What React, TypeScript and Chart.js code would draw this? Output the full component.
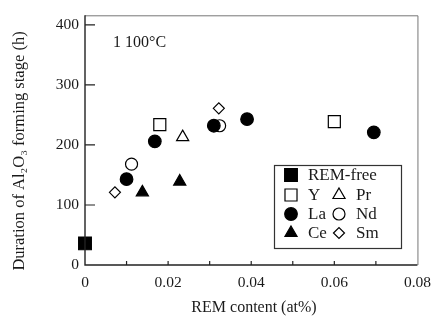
import React, { useEffect, useRef } from "react";
import { Chart, registerables } from "chart.js";
import * as helpers from "chart.js/helpers";

Chart.register(...registerables);

const remFree = [{ x: 0, y: 36 }];
const yData = [{ x: 0.018, y: 234 }, { x: 0.06, y: 239 }];
const laData = [
  { x: 0.01, y: 143 },
  { x: 0.0168, y: 206 },
  { x: 0.031, y: 232 },
  { x: 0.039, y: 243 },
  { x: 0.0695, y: 221 },
];
const ceData = [{ x: 0.0138, y: 121 }, { x: 0.0228, y: 139 }];
const prData = [{ x: 0.0235, y: 213 }];
const ndData = [{ x: 0.0112, y: 168 }, { x: 0.0324, y: 232 }];
const smData = [{ x: 0.0072, y: 121 }, { x: 0.0322, y: 261 }];

const yTicks = [0, 100, 200, 300, 400];
const xTicks = [0, 0.01, 0.02, 0.03, 0.04, 0.05, 0.06, 0.07, 0.08];
const xLabels = ["0", "", "0.02", "", "0.04", "", "0.06", "", "0.08"];

const FONT = "'Liberation Serif', 'DejaVu Serif', serif";

const styles: Record<string, any> = {
  "REM-free": { pointStyle: "rect", radius: 9, fill: true },
  Y: { pointStyle: "rect", radius: 8.5, fill: false },
  La: { pointStyle: "circle", radius: 6.3, fill: true },
  Ce: { pointStyle: "triangle", radius: 7, fill: true },
  Pr: { pointStyle: "triangle", radius: 7, fill: false },
  Nd: { pointStyle: "circle", radius: 6, fill: false },
  Sm: { pointStyle: "rectRot", radius: 5.5, fill: false },
};

function ds(label: string, data: any[]) {
  const s = styles[label];
  return {
    label,
    data,
    pointStyle: s.pointStyle,
    pointRadius: s.radius,
    pointHoverRadius: s.radius,
    pointBackgroundColor: s.fill ? "#000" : "#fff",
    pointBorderColor: "#000",
    pointBorderWidth: 1.2,
    showLine: false,
    clip: false as any,
  };
}

const decorPlugin = {
  id: "decor",
  afterDraw(chart: any) {
    const { ctx, chartArea } = chart;
    const xs = chart.scales.x;
    const ys = chart.scales.y;
    const { left, right, top, bottom } = chartArea;
    ctx.save();
    // frame top/right
    ctx.strokeStyle = "#777";
    ctx.lineWidth = 1;
    ctx.beginPath();
    ctx.moveTo(left, top + 0.5);
    ctx.lineTo(right + 0.5, top + 0.5);
    ctx.lineTo(right + 0.5, bottom);
    ctx.stroke();
    // axes
    ctx.strokeStyle = "#222";
    ctx.lineWidth = 1.4;
    ctx.beginPath();
    ctx.moveTo(left, top);
    ctx.lineTo(left, bottom);
    ctx.lineTo(right, bottom);
    ctx.stroke();
    // inner ticks
    ctx.lineWidth = 1.2;
    ctx.beginPath();
    yTicks.forEach((v) => {
      if (v === 0) return;
      const p = ys.getPixelForValue(v);
      ctx.moveTo(left, p);
      ctx.lineTo(left + 10, p);
    });
    xTicks.forEach((v, i) => {
      if (v === 0 || i === xTicks.length - 1) return;
      const p = xs.getPixelForValue(v);
      ctx.moveTo(p, bottom);
      ctx.lineTo(p, bottom - 4);
    });
    ctx.stroke();

    // texts
    ctx.fillStyle = "#1a1a1a";
    ctx.font = `16px ${FONT}`;
    ctx.textBaseline = "middle";
    ctx.textAlign = "left";
    ctx.fillText("1 100°C", 113, 43);

    ctx.textAlign = "center";
    ctx.fillText("REM content (at%)", 254, 308);

    ctx.save();
    ctx.translate(20, 151);
    ctx.rotate(-Math.PI / 2);
    ctx.font = `16.5px ${FONT}`;
    ctx.fillText("Duration of Al₂O₃ forming stage (h)", 0, 0);
    ctx.restore();

    // legend
    const bx = 274, by = 165, bw = 127, bh = 83;
    ctx.strokeStyle = "#333";
    ctx.lineWidth = 1.2;
    ctx.strokeRect(bx + 0.5, by + 0.5, bw, bh);
    const rows: [string, number, number][] = [
      ["REM-free", 291, 175],
      ["Y", 291, 195],
      ["Pr", 339, 195],
      ["La", 291, 214],
      ["Nd", 339, 214],
      ["Ce", 291, 233],
      ["Sm", 339, 233],
    ];
    ctx.font = `17px ${FONT}`;
    ctx.textAlign = "left";
    rows.forEach(([name, x, y]) => {
      const s = styles[name];
      ctx.fillStyle = s.fill ? "#000" : "#fff";
      ctx.strokeStyle = "#000";
      ctx.lineWidth = 1.2;
      helpers.drawPoint(ctx, { pointStyle: s.pointStyle, radius: s.radius, rotation: 0, borderWidth: 1.2 } as any, x, y);
      ctx.fillStyle = "#1a1a1a";
      ctx.fillText(name, x + 17, y + 1);
    });
    ctx.restore();
  },
};

export default function App() {
  const ref = useRef<HTMLCanvasElement | null>(null);
  useEffect(() => {
    if (!ref.current) return;
    const chart = new Chart(ref.current, {
      type: "scatter",
      data: {
        datasets: [
          ds("REM-free", remFree),
          ds("Ce", ceData),
          ds("La", laData),
          ds("Y", yData),
          ds("Pr", prData),
          ds("Nd", ndData),
          ds("Sm", smData),
        ],
      },
      options: {
        animation: false,
        responsive: false,
        devicePixelRatio: 1,
        layout: { padding: { top: 7, right: 11, left: 0, bottom: 0 } },
        plugins: { legend: { display: false }, tooltip: { enabled: false } },
        scales: {
          x: {
            type: "linear",
            min: 0,
            max: 0.08,
            grid: { display: false, drawTicks: false },
            border: { display: false },
            afterBuildTicks: (s: any) => {
              s.ticks = xTicks.map((v) => ({ value: v }));
            },
            afterFit: (s: any) => {
              s.height = 63;
            },
            ticks: {
              padding: 9,
              maxRotation: 0,
              autoSkip: false,
              color: "#1a1a1a",
              font: { family: FONT, size: 15.5 },
              callback: (_v: any, i: number) => xLabels[i],
            },
          },
          y: {
            type: "linear",
            min: 0,
            max: 416,
            grid: { display: false, drawTicks: false },
            border: { display: false },
            afterBuildTicks: (s: any) => {
              s.ticks = yTicks.map((v) => ({ value: v }));
            },
            afterFit: (s: any) => {
              s.width = 85;
            },
            ticks: {
              padding: 6,
              autoSkip: false,
              color: "#1a1a1a",
              font: { family: FONT, size: 15.5 },
              callback: (v: any) => String(v),
            },
          },
        },
      },
      plugins: [decorPlugin],
    });
    return () => chart.destroy();
  }, []);
  return (
    <div style={{ position: "fixed", left: 0, top: 0, width: 440, height: 328, background: "#fff" }}>
      <canvas ref={ref} width={440} height={328} style={{ width: 440, height: 328, display: "block" }} />
    </div>
  );
}
